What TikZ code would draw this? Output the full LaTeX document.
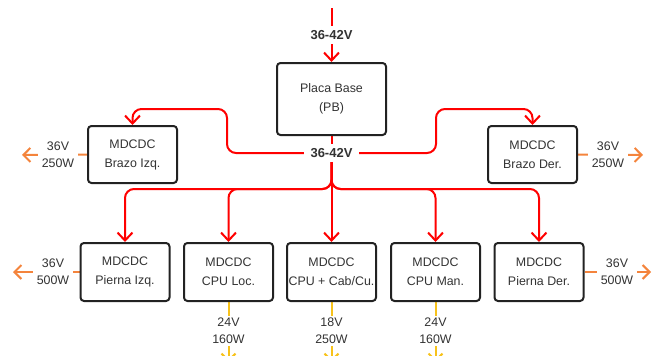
\documentclass[tikz,border=0pt]{standalone}
\usepackage{fontspec}
\setmainfont{Liberation Sans}
\usetikzlibrary{arrows.meta,backgrounds}
\definecolor{txt}{HTML}{333333}
\definecolor{bord}{HTML}{222222}
\definecolor{pwr}{HTML}{FF0000}
\definecolor{orn}{HTML}{F4843C}
\definecolor{yel}{HTML}{F7C21B}
\tikzset{
  box/.style={draw=bord, line width=2pt, rounded corners=3.5pt, fill=white, inner sep=0pt,
    minimum width=89pt, minimum height=58pt, align=center, text=txt,
    font=\fontsize{12.4pt}{19pt}\selectfont},
  vlabel/.style={fill=white, inner xsep=4pt, inner ysep=2pt, text=txt, align=center,
    font=\fontsize{12.4pt}{16.7pt}\selectfont},
  blabel/.style={fill=white, inner xsep=7pt, inner ysep=4pt, text=txt, font=\fontsize{13pt}{15pt}\selectfont\bfseries},
  redline/.style={draw=pwr, line width=2pt, rounded corners=9pt},
  tipr/.style={-{Straight Barb[length=8pt,width=15pt,line width=2pt]}},
  orline/.style={draw=orn, line width=2pt, -{Straight Barb[length=7pt,width=14pt,line width=2pt]}},
  yeline/.style={draw=yel, line width=2pt, -{Straight Barb[length=7pt,width=14pt,line width=2pt]}},
}
\begin{document}
\begin{tikzpicture}[x=1pt,y=-1pt]
\useasboundingbox (0,0) rectangle (657,356);
\clip (0,0) rectangle (657,356);
% boxes
\node[box, minimum width=109pt, minimum height=72pt] (pb) at (331.5,99) {Placa Base\\(PB)};
\node[box, minimum height=57pt] (bi) at (132.5,154.5) {MDCDC\\Brazo Izq.};
\node[box, minimum height=57pt] (bd) at (532.5,154.5) {MDCDC\\Brazo Der.};
\node[box] (pi) at (125,272) {MDCDC\\Pierna Izq.};
\node[box] (cl) at (228.5,272) {MDCDC\\CPU Loc.};
\node[box] (cc) at (331.5,272) {MDCDC\\CPU + Cab/Cu.};
\node[box] (cm) at (435.5,272) {MDCDC\\CPU Man.};
\node[box] (pd) at (539,272) {MDCDC\\Pierna Der.};
% labels
\node[blabel] (ltop) at (331.5,35) {36-42V};
\node[blabel] (lmid) at (331.5,153) {36-42V};
\node[vlabel] (obi) at (58,155) {36V\\250W};
\node[vlabel] (obd) at (608,155) {36V\\250W};
\node[vlabel] (opi) at (53,272) {36V\\500W};
\node[vlabel] (opd) at (617,272) {36V\\500W};
\node[vlabel] (ycl) at (228.5,331) {24V\\160W};
\node[vlabel] (ycc) at (331.5,331) {18V\\250W};
\node[vlabel] (ycm) at (435.5,331) {24V\\160W};
% free ends
\coordinate (src) at (331.5,8);
\coordinate (tbi) at (22,155);
\coordinate (tbd) at (643,155);
\coordinate (tpi) at (13,272);
\coordinate (tpd) at (651,272);
\coordinate (tcl) at (228.5,362);
\coordinate (tcc) at (331.5,362);
\coordinate (tcm) at (435.5,362);
\begin{pgfonlayer}{background}
% input
\draw[redline, tipr] (src) -- (pb.north);
% to arms
\draw[redline] (pb.south) -- (lmid.center);
\draw[redline, tipr] (lmid.center) -- (227,153) -- (227,109) -- (bi.north |- 0,109) -- (bi.north);
\draw[redline, tipr] (lmid.center) -- (436,153) -- (436,109) -- (bd.north |- 0,109) -- (bd.north);
% to lower row
\draw[redline, tipr] (lmid.center) -- (cc.north);
\draw[redline, tipr] (lmid.center) -- (331.5,189) -- (pi.north |- 0,189) -- (pi.north);
\draw[redline, tipr] (lmid.center) -- (331.5,189) -- (cl.north |- 0,189) -- (cl.north);
\draw[redline, tipr] (lmid.center) -- (331.5,189) -- (cm.north |- 0,189) -- (cm.north);
\draw[redline, tipr] (lmid.center) -- (331.5,189) -- (pd.north |- 0,189) -- (pd.north);
% outputs
\draw[orline] (bi.west) -- (tbi);
\draw[orline] (bd.east) -- (tbd);
\draw[orline] (pi.west) -- (tpi);
\draw[orline] (pd.east) -- (tpd);
\draw[yeline] (cl.south) -- (tcl);
\draw[yeline] (cc.south) -- (tcc);
\draw[yeline] (cm.south) -- (tcm);
\end{pgfonlayer}
\end{tikzpicture}
\end{document}
